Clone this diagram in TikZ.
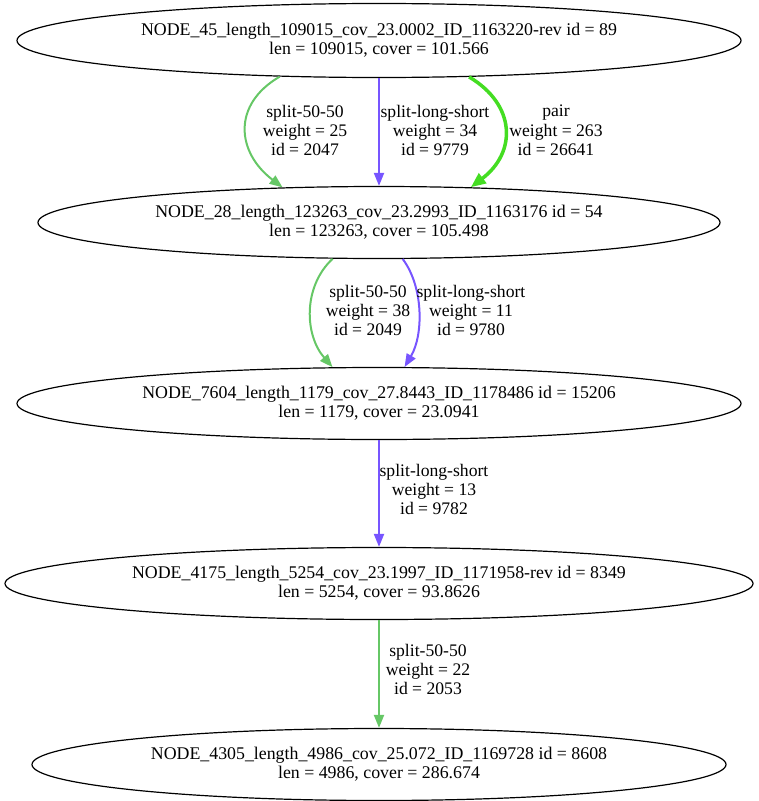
\documentclass[tikz,border=0pt]{standalone}
\usepackage{fontspec}
\setmainfont{Liberation Serif}
\usetikzlibrary{shapes.geometric,arrows.meta}
\definecolor{gsplit}{RGB}{102,199,102}
\definecolor{psplit}{RGB}{119,85,255}
\definecolor{gpair}{RGB}{68,221,34}
\tikzset{
  ctg/.style={draw=black,line width=1.2bp,ellipse,inner sep=0pt,align=center,
    font=\fontsize{17.9}{19}\selectfont},
  elab/.style={inner sep=0pt,align=center,font=\fontsize{17.7}{19.5}\selectfont},
  e5050/.style={draw=gsplit,line width=2bp,-{Triangle[length=13bp,width=10bp]}},
  els/.style={draw=psplit,line width=2bp,-{Triangle[length=13bp,width=10bp]}},
  epair/.style={draw=gpair,line width=3.5bp,-{Triangle[length=15bp,width=12bp]}},
}
\begin{document}
\begin{tikzpicture}[x=1bp,y=-1bp]
\useasboundingbox (0,0) rectangle (759,801);
\node[ctg,minimum width=724bp,minimum height=74bp] (n1) at (379,40.5)
  {NODE\_45\_length\_109015\_cov\_23.0002\_ID\_1163220-rev id = 89\\len = 109015, cover = 101.566};
\node[ctg,minimum width=682bp,minimum height=72bp] (n2) at (379,222.5)
  {NODE\_28\_length\_123263\_cov\_23.2993\_ID\_1163176 id = 54\\len = 123263, cover = 105.498};
\node[ctg,minimum width=724bp,minimum height=72bp] (n3) at (379,403.5)
  {NODE\_7604\_length\_1179\_cov\_27.8443\_ID\_1178486 id = 15206\\len = 1179, cover = 23.0941};
\node[ctg,minimum width=748bp,minimum height=72bp] (n4) at (379,583.5)
  {NODE\_4175\_length\_5254\_cov\_23.1997\_ID\_1171958-rev id = 8349\\len = 5254, cover = 93.8626};
\node[ctg,minimum width=694bp,minimum height=72bp] (n5) at (379,764.5)
  {NODE\_4305\_length\_4986\_cov\_25.072\_ID\_1169728 id = 8608\\len = 4986, cover = 286.674};

\draw[e5050] (n1.200) .. controls +(-48,28) and +(-46,-35) .. (n2.160.5);
\draw[els] (n1.south) -- (n2.north);
\draw[epair] (n1.338.4) .. controls +(47,28) and +(46,-35) .. (n2.21);
\draw[e5050] (n2.218.5) .. controls +(-30,28) and +(-28,-32) .. (n3.142);
\draw[els] (n2.303.3) .. controls +(21,28) and +(19,-32) .. (n3.55.2);
\draw[els] (n3.south) -- (n4.north);
\draw[e5050] (n4.south) -- (n5.north);

\node[elab] (l1) at (305,130.5) {split-50-50\\weight = 25\\id = 2047};
\node[elab] (l2) at (435,130.5) {split-long-short\\weight = 34\\id = 9779};
\node[elab] (l3) at (556,130.5) {pair\\weight = 263\\id = 26641};
\node[elab] (l4) at (368,310.5) {split-50-50\\weight = 38\\id = 2049};
\node[elab] (l5) at (471,310.5) {split-long-short\\weight = 11\\id = 9780};
\node[elab] (l6) at (434,489.5) {split-long-short\\weight = 13\\id = 9782};
\node[elab] (l7) at (428,669.5) {split-50-50\\weight = 22\\id = 2053};
\end{tikzpicture}
\end{document}
